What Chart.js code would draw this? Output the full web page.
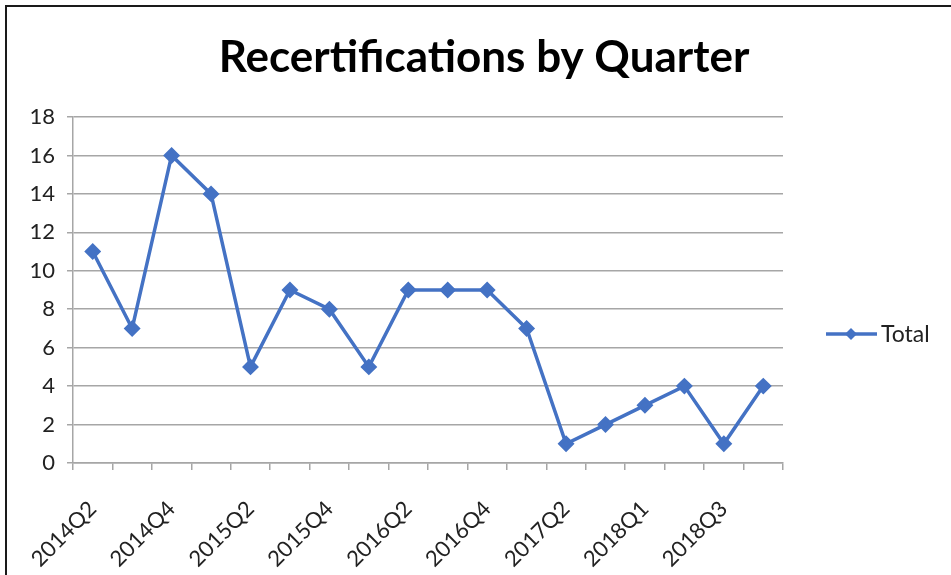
<!DOCTYPE html>
<html>
<head>
<meta charset="utf-8">
<script src="https://cdn.jsdelivr.net/npm/chart.js@4.4.1/dist/chart.umd.min.js"></script>
<style>
  html, body { margin: 0; padding: 0; background: #fff; }
  #frame {
    position: absolute; left: 5px; top: 5px; width: 946px; height: 570px;
    border-top: 2px solid #1a1a1a; border-left: 2px solid #1a1a1a;
    box-sizing: border-box;
  }
  #wrap { position: absolute; left: 0; top: 0; width: 951px; height: 575px; }
</style>
</head>
<body>
<div id="frame"></div>
<div id="wrap"><canvas id="myChart"></canvas></div>
<script>
document.addEventListener('DOMContentLoaded', (event) => {
    var quarters = ["2014Q2", "2014Q3", "2014Q4", "2015Q1", "2015Q2", "2015Q3",
                    "2015Q4", "2016Q1", "2016Q2", "2016Q3", "2016Q4", "2017Q1",
                    "2017Q2", "2017Q4", "2018Q1", "2018Q2", "2018Q3", "2018Q4"];
    var totals = [11, 7, 16, 14, 5, 9, 8, 5, 9, 9, 9, 7, 1, 2, 3, 4, 1, 4];
    var lineColor = "#4472C4";
    var fontName = "Lato";
    var titleText = "Recertifications by Quarter";

    // title centred on the whole picture, legend on the right
    var titleAndLegend = {
        id: "titleAndLegend",
        afterDraw(chart) {
            var ctx = chart.ctx;
            var ds = chart.data.datasets[0];
            ctx.save();
            ctx.fillStyle = "#000";
            ctx.font = "bold 44px " + fontName;
            ctx.textAlign = "center";
            ctx.textBaseline = "alphabetic";
            ctx.fillText(titleText, 484, 72);

            var y = 334;
            ctx.strokeStyle = ds.borderColor;
            ctx.lineWidth = 3.5;
            ctx.beginPath();
            ctx.moveTo(826, y);
            ctx.lineTo(877, y);
            ctx.stroke();
            ctx.fillStyle = ds.borderColor;
            ctx.beginPath();
            ctx.moveTo(851, y - 6);
            ctx.lineTo(857, y);
            ctx.lineTo(851, y + 6);
            ctx.lineTo(845, y);
            ctx.closePath();
            ctx.fill();
            ctx.fillStyle = "#222";
            ctx.font = "23px " + fontName;
            ctx.textAlign = "left";
            ctx.textBaseline = "middle";
            ctx.fillText(ds.label, 881, y + 1);
            ctx.restore();
        }
    };

    new Chart("myChart", {
        type: "line",
        data: {
            labels: quarters,
            datasets: [{
                label: "Total",
                data: totals,
                borderColor: lineColor,
                backgroundColor: lineColor,
                borderWidth: 3.5,
                pointStyle: "rectRot",
                pointRadius: 6,
                pointHoverRadius: 6,
                tension: 0
            }]
        },
        options: {
            responsive: true,
            maintainAspectRatio: false,
            animation: false,
            layout: { padding: { left: 8, right: 168, top: 117, bottom: 0 } },
            plugins: {
                legend: { display: false },
                tooltip: { enabled: false },
                title: { display: false }
            },
            scales: {
                x: {
                    offset: true,
                    grid: {
                        offset: true,
                        drawOnChartArea: false,
                        color: "#a6a6a6",
                        lineWidth: 1.5,
                        tickLength: 7
                    },
                    border: { color: "#a6a6a6", width: 1.5 },
                    ticks: {
                        autoSkip: false,
                        minRotation: 45,
                        maxRotation: 45,
                        padding: 26,
                        color: "#222",
                        font: { family: fontName, size: 22 },
                        callback: function(value, index) {
                            return index % 2 === 0 ? this.getLabelForValue(value) : "";
                        }
                    },
                    afterFit: function(scale) { scale.height = 112; }
                },
                y: {
                    min: 0,
                    max: 18,
                    grid: {
                        color: "#a6a6a6",
                        lineWidth: 1.5,
                        tickLength: 6
                    },
                    border: { color: "#a6a6a6", width: 1.5 },
                    ticks: {
                        stepSize: 2,
                        color: "#222",
                        padding: 12,
                        font: { family: fontName, size: 22 }
                    },
                    afterFit: function(scale) { scale.width = 65; }
                }
            }
        },
        plugins: [titleAndLegend]
    });
});
</script>
</body>
</html>
